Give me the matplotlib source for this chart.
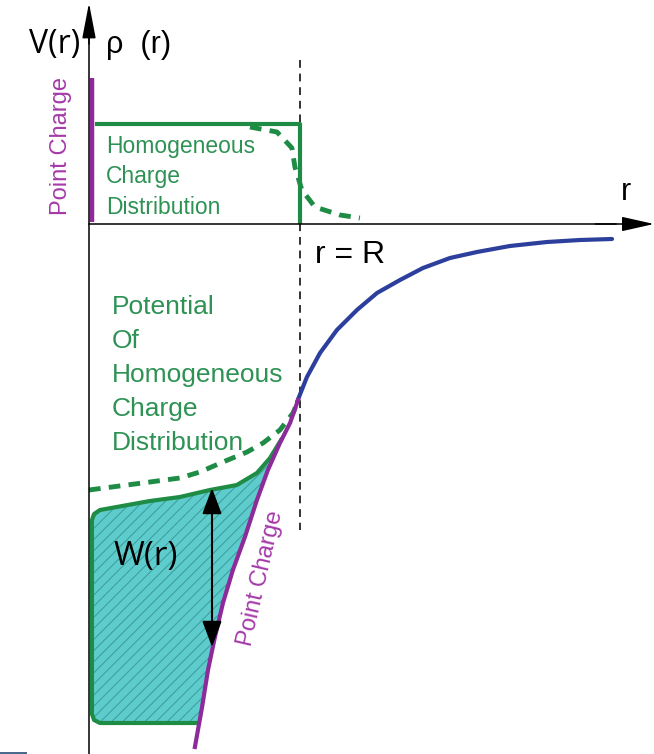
import numpy as np
import matplotlib as mpl
mpl.use('agg')
import matplotlib.pyplot as plt

# r in units of R, V in arbitrary units (origin at the axis crossing)

# charge density rho(r)
rho_r = [0.038, 1.0, 1.0]
rho_V = [1.00, 1.00, 0.02]
rho_soft_r = [0.763, 0.891, 0.962, 0.976, 1.009, 1.071, 1.190, 1.284]
rho_soft_V = [0.97, 0.92, 0.76, 0.57, 0.34, 0.17, 0.09, 0.06]
point_r = [0.014, 0.014]
point_V = [0.02, 1.46]

# potential outside the sphere
out_r = [0.986, 1.033, 1.095, 1.175, 1.270, 1.365, 1.474, 1.583, 1.711, 1.839,
         1.995, 2.171, 2.327, 2.479]
out_V = [-1.78, -1.53, -1.29, -1.06, -0.86, -0.69, -0.56, -0.44, -0.34, -0.28,
         -0.22, -0.18, -0.16, -0.15]

# point charge potential inside
pc_r = np.array([0.991, 0.953, 0.905, 0.848, 0.796, 0.739, 0.682, 0.635, 0.597,
                 0.564, 0.536, 0.502])
pc_V = np.array([-1.76, -1.99, -2.19, -2.46, -2.76, -3.13, -3.46, -3.79, -4.13,
                 -4.46, -4.83, -5.23])

# potential of homogeneous distribution (dashed)
hom_r = [0.0, 0.289, 0.431, 0.526, 0.635, 0.749, 0.825, 0.905, 0.967, 0.991]
hom_V = [-2.66, -2.58, -2.54, -2.48, -2.38, -2.28, -2.19, -2.06, -1.89, -1.77]

# outline of the W(r) region (bottom right -> left -> top -> meets point charge)
w_r = np.array([0.517, 0.052, 0.024, 0.014, 0.014, 0.024, 0.052, 0.289, 0.431,
                0.573, 0.701, 0.796, 0.858, 0.910])
w_V = np.array([-4.99, -4.99, -4.96, -4.90, -2.96, -2.90, -2.86, -2.77, -2.73,
                -2.66, -2.61, -2.49, -2.34, -2.16])

R_line = 1.0
arrow_r = 0.583
arrow_V = [-2.64, -4.23]

green = '#1f8c45'
green_txt = '#2e9254'
purple = '#8c2b99'
purple_txt = '#a43aa8'
blue = '#2d3f9c'

fig = plt.figure(figsize=(6.54, 7.54), dpi=100)
ax = fig.add_axes([0, 0, 1, 1])
ax.set_xlim(-0.4218, 2.678)
ax.set_ylim(-5.30, 2.24)
ax.axis('off')

# axes with arrows
ax.plot([0, 0], [-5.30, 2.0], color='black', lw=1.1, zorder=5)
ax.annotate('', xy=(0, 2.21), xytext=(0, 1.8),
            arrowprops=dict(arrowstyle='-|>,head_length=2.2,head_width=0.42',
                            mutation_scale=10, color='black', lw=1.1, shrinkA=0, shrinkB=0))
ax.plot([0, 2.5], [0, 0], color='black', lw=1.1, zorder=5)
ax.annotate('', xy=(2.678, 0), xytext=(2.4, 0),
            arrowprops=dict(arrowstyle='-|>,head_length=2.0,head_width=0.45',
                            mutation_scale=10, color='black', lw=1.1, shrinkA=0, shrinkB=0))

# r = R dashed line
ax.plot([R_line, R_line], [1.64, -3.06], color='#333333', lw=1.4, ls=(0, (4, 3)), zorder=2)

# rho(r)
ax.plot(point_r, point_V, color=purple, lw=3.2, solid_capstyle='butt', zorder=4)
ax.plot(rho_r, rho_V, color=green, lw=3.0, zorder=3)
ax.plot(rho_soft_r, rho_soft_V, color=green, lw=3.5, ls=(0, (2.4, 1.7)), zorder=3)

# W(r) shaded region
sel = (pc_V <= w_V[-1]) & (pc_V >= w_V[0])
poly_r = np.concatenate([w_r, pc_r[sel]])
poly_V = np.concatenate([w_V, pc_V[sel]])
mpl.rcParams['hatch.linewidth'] = 0.7
ax.fill(poly_r, poly_V, facecolor='#5ecccc', edgecolor='#3c9a9a', lw=0, hatch='///', zorder=1)
ax.plot(w_r, w_V, color=green, lw=3.0, solid_joinstyle='round', zorder=3)

# potentials
ax.plot(hom_r, hom_V, color=green, lw=3.5, ls=(0, (2.4, 1.7)), zorder=3)
ax.plot(out_r, out_V, color=blue, lw=3.0, solid_capstyle='round', zorder=3)
ax.plot(pc_r, pc_V, color=purple, lw=3.0, zorder=4)

# W(r) arrow
ax.annotate('', xy=(arrow_r, arrow_V[0]), xytext=(arrow_r, arrow_V[1]),
            arrowprops=dict(arrowstyle='<|-|>,head_length=1.6,head_width=0.6',
                            mutation_scale=10, color='black', lw=1.5, shrinkA=0, shrinkB=0),
            zorder=6)

# labels
ax.text(-0.161, 1.79, 'V(r)', fontsize=23, family='Open Sans', ha='center', va='center')
ax.text(0.237, 1.79, 'ρ  (r)', fontsize=22, family='Liberation Sans', ha='center', va='center')
ax.text(2.545, 0.32, 'r', fontsize=22, family='Liberation Sans', ha='center', va='center')
ax.text(1.071, -0.31, 'r = R', fontsize=23, family='Liberation Sans', ha='left', va='center')
ax.text(-0.133, 0.78, 'Point Charge', fontsize=17, family='Liberation Sans', color=purple_txt,
        rotation=90, ha='center', va='center')
for i, s in enumerate(['Homogeneous', 'Charge', 'Distribution']):
    ax.text(0.081, 0.77 - 0.30 * i, s, fontsize=16.5, family='Liberation Sans', color=green_txt,
            ha='left', va='center')
for i, s in enumerate(['Potential', 'Of', 'Homogeneous', 'Charge', 'Distribution']):
    ax.text(0.109, -0.83 - 0.34 * i, s, fontsize=19, family='Liberation Sans', color=green_txt,
            ha='left', va='center')
ax.text(0.114, -3.33, 'W(r)', fontsize=24, family='Open Sans', ha='left', va='center')
ax.text(0.815, -3.54, 'Point Charge', fontsize=17, family='Liberation Sans', color=purple_txt,
        rotation=77, rotation_mode='anchor', ha='center', va='center')

# small blue bar at the bottom-left edge
ax.fill([-0.4218, -0.294, -0.294, -0.4218], [-5.30, -5.30, -5.28, -5.28], color='#4a6a90', lw=0)

fig.savefig('out.png', dpi=100)
